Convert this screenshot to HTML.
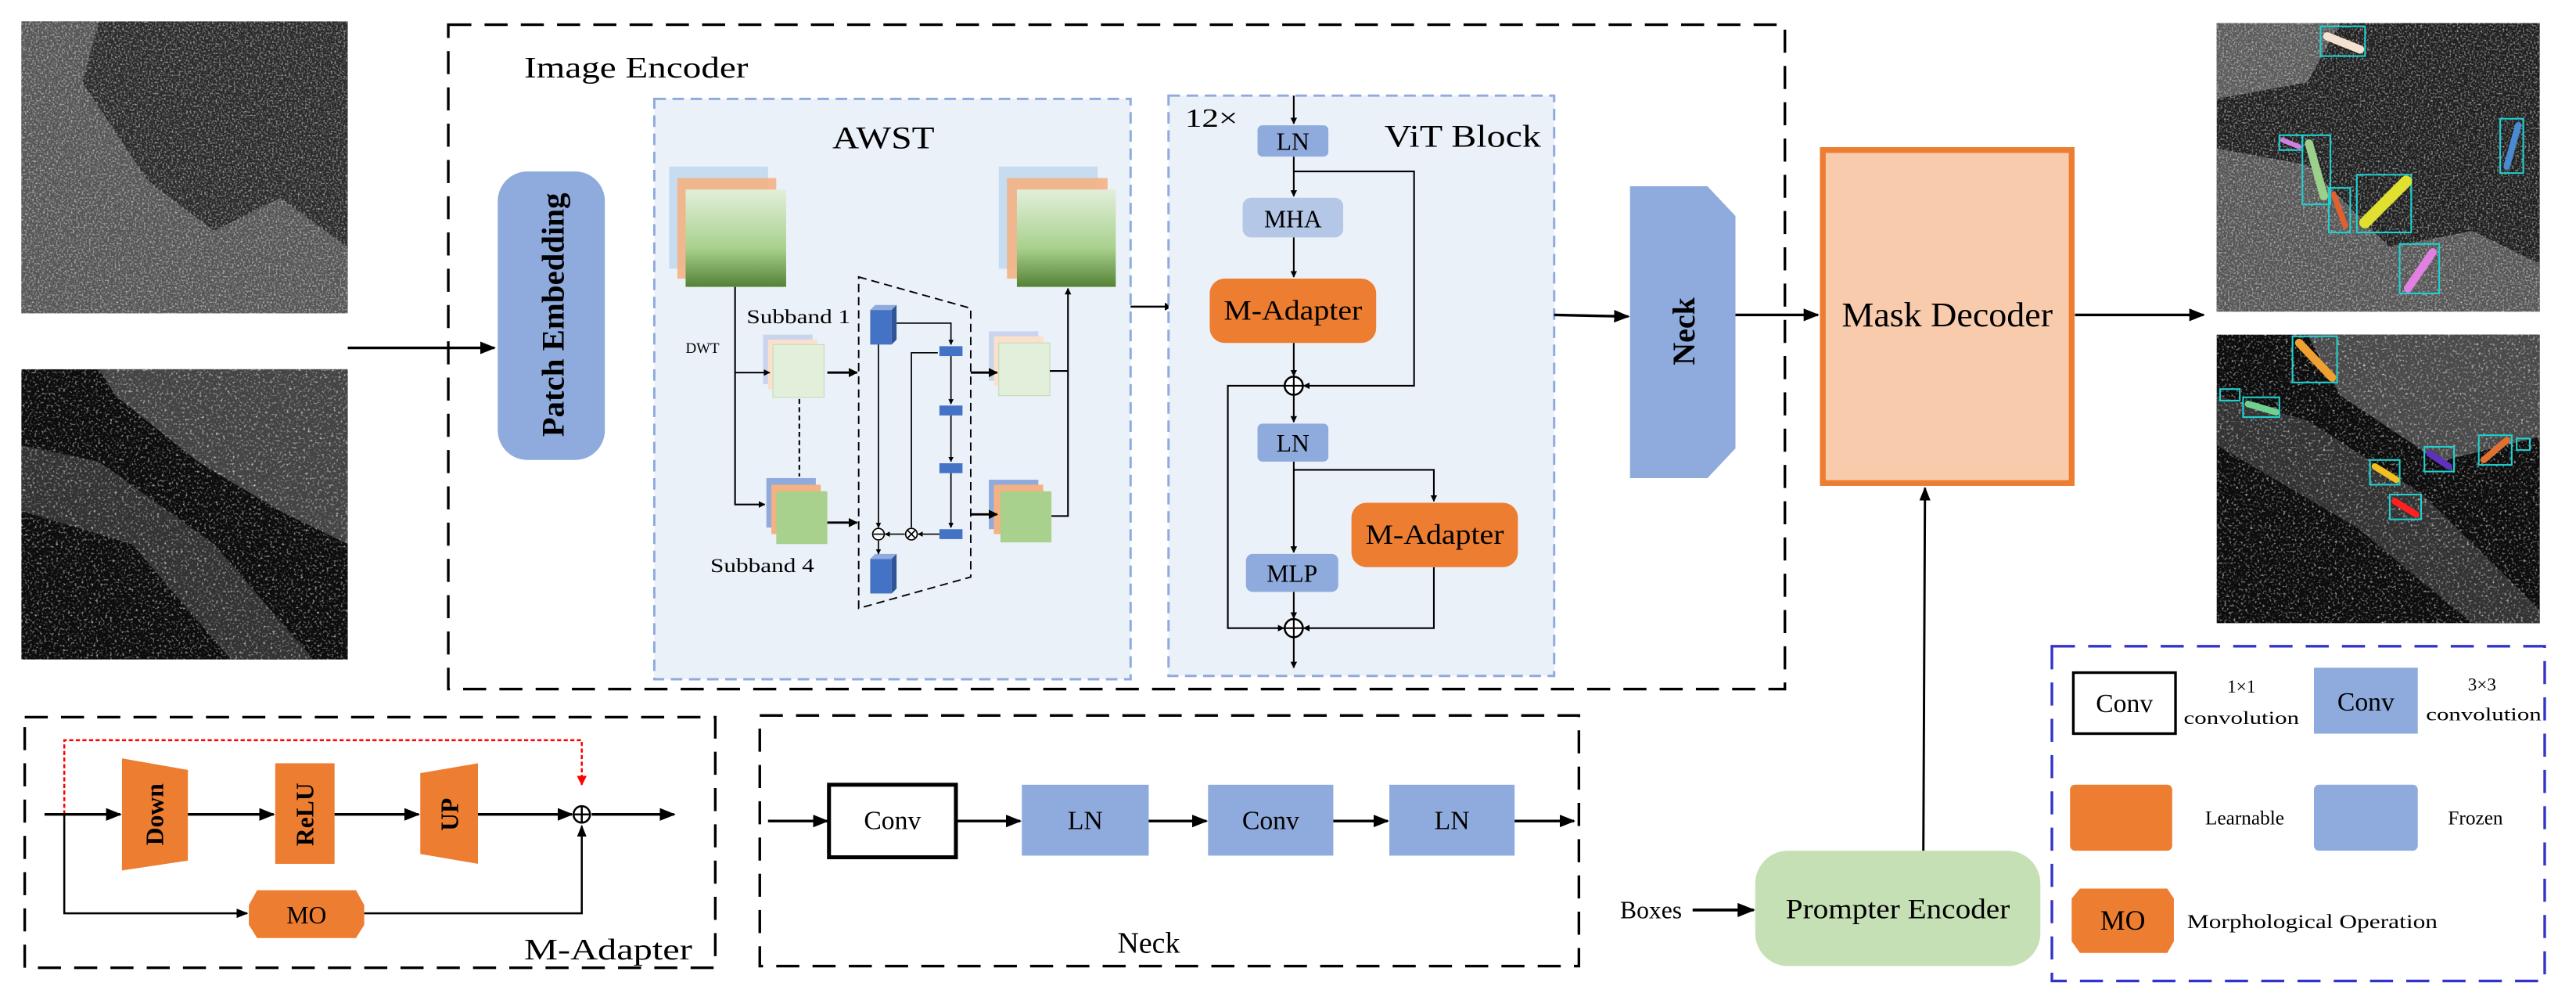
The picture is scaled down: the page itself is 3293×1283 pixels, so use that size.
<!DOCTYPE html>
<html><head><meta charset="utf-8"><style>
html,body{margin:0;padding:0;background:#fff}
svg{display:block}
text{font-family:"Liberation Serif",serif;fill:#000}
</style></head><body>
<svg width="3293" height="1283" viewBox="0 0 1563 609" preserveAspectRatio="none" xmlns="http://www.w3.org/2000/svg">
<defs>
<filter id="noise" x="0" y="0" width="100%" height="100%">
<feTurbulence type="fractalNoise" baseFrequency="0.9" numOctaves="2" seed="3"/>
<feColorMatrix type="matrix" values="0 0 0 0 1  0 0 0 0 1  0 0 0 0 1  1.6 0 0 0 -0.75"/>
</filter>
<filter id="noise2" x="0" y="0" width="100%" height="100%">
<feTurbulence type="fractalNoise" baseFrequency="0.7" numOctaves="2" seed="7"/>
<feColorMatrix type="matrix" values="0 0 0 0 1  0 0 0 0 1  0 0 0 0 1  2.2 0 0 0 -1.2"/>
</filter>
<linearGradient id="gg" x1="0" y1="0" x2="0" y2="1"><stop offset="0" stop-color="#e2efda"/><stop offset="0.6" stop-color="#a9d18e"/><stop offset="1" stop-color="#548235"/></linearGradient>
<marker id="a" viewBox="0 0 10 10" refX="9" refY="5" markerWidth="4" markerHeight="4" orient="auto"><path d="M0,0 L10,5 L0,10 z" fill="#000"/></marker>
<marker id="s" viewBox="0 0 10 10" refX="9" refY="5" markerWidth="6" markerHeight="6" orient="auto"><path d="M0,1 L10,5 L0,9 z" fill="#000"/></marker>
<marker id="r" viewBox="0 0 10 10" refX="9" refY="5" markerWidth="5" markerHeight="5" orient="auto"><path d="M0,0 L10,5 L0,10 z" fill="#f00"/></marker>
</defs>

<!-- input SAR images -->
<rect x="13" y="13" width="198" height="177" fill="#2a2a2a"/>
<path d="M13,13 L60,13 L50,50 L90,110 L130,140 L170,120 L211,150 L211,190 L13,190 Z" fill="#555"/>
<rect x="13" y="13" width="198" height="177" filter="url(#noise)"/>
<rect x="13" y="224" width="198" height="176" fill="#0d0d0d"/>
<path d="M60,224 L211,224 L211,330 L170,310 L120,280 L70,240 Z" fill="#444"/>
<path d="M13,270 L60,280 L130,330 L190,400 L140,400 L80,330 L13,310 Z" fill="#333"/>
<rect x="13" y="224" width="198" height="176" filter="url(#noise2)"/>
<line x1="211" y1="211" x2="300" y2="211" stroke="#000" stroke-width="1.6" marker-end="url(#s)"/>

<!-- Image encoder box -->
<rect x="272" y="15" width="811" height="403" fill="none" stroke="#000" stroke-width="1.6" stroke-dasharray="14,8"/>
<text x="318" y="47" font-size="18" textLength="136" lengthAdjust="spacingAndGlyphs">Image Encoder</text>

<!-- Patch embedding -->
<rect x="302" y="104" width="65" height="175" rx="18" fill="#8faadc"/>
<text transform="translate(342,191) rotate(-90)" text-anchor="middle" font-size="19" font-weight="bold" textLength="148" lengthAdjust="spacingAndGlyphs">Patch Embedding</text>

<!-- AWST -->
<rect x="397" y="60" width="289" height="352" fill="#ebf1f9" stroke="#8faadc" stroke-width="1.4" stroke-dasharray="7,4"/>
<text x="536" y="90" text-anchor="middle" font-size="19" textLength="62" lengthAdjust="spacingAndGlyphs">AWST</text>
<rect x="406" y="101" width="60" height="62" fill="#bdd7ee" opacity="0.8"/>
<rect x="411" y="108" width="60" height="61" fill="#f4b183" opacity="0.9"/>
<rect x="416" y="115" width="61" height="59" fill="url(#gg)"/>
<rect x="606" y="101" width="60" height="62" fill="#bdd7ee" opacity="0.8"/>
<rect x="611" y="108" width="61" height="61" fill="#f4b183" opacity="0.9"/>
<rect x="617" y="115" width="60" height="59" fill="url(#gg)"/>
<text x="453" y="196" font-size="12" textLength="63" lengthAdjust="spacingAndGlyphs">Subband 1</text>
<text x="416" y="214" font-size="9">DWT</text>
<rect x="463" y="203" width="30" height="30" fill="#c9d4ee"/>
<rect x="466" y="206" width="30" height="30" fill="#fbe0cc"/>
<rect x="469" y="209" width="31" height="32" fill="#e2efda" stroke="#c5d9b8" stroke-width="0.5"/>
<rect x="465" y="290" width="30" height="30" fill="#8faadc"/>
<rect x="468" y="294" width="30" height="30" fill="#f4b183"/>
<rect x="471" y="298" width="31" height="32" fill="#a9d18e"/>
<text x="431" y="347" font-size="12" textLength="63" lengthAdjust="spacingAndGlyphs">Subband 4</text>
<line x1="485" y1="242" x2="485" y2="289" stroke="#000" stroke-width="1" stroke-dasharray="3,2"/>
<polyline points="446,174 446,306 464,306" fill="none" stroke="#000" stroke-width="1" marker-end="url(#a)"/>
<line x1="446" y1="226" x2="467" y2="226" stroke="#000" stroke-width="1" marker-end="url(#a)"/>
<line x1="502" y1="226" x2="520" y2="226" stroke="#000" stroke-width="1.4" marker-end="url(#a)"/>
<line x1="502" y1="317" x2="520" y2="317" stroke="#000" stroke-width="1.4" marker-end="url(#a)"/>
<polygon points="521,168 589,187 589,350 521,369" fill="none" stroke="#000" stroke-width="0.9" stroke-dasharray="5,3"/>
<!-- inner -->
<rect x="528" y="188" width="13" height="21" fill="#4472c4"/><polygon points="528,188 531,185 544,185 541,188" fill="#8faadc"/><polygon points="541,188 544,185 544,206 541,209" fill="#2f5597"/>
<rect x="528" y="339" width="13" height="21" fill="#4472c4"/><polygon points="528,339 531,336 544,336 541,339" fill="#8faadc"/><polygon points="541,339 544,336 544,357 541,360" fill="#2f5597"/>
<g fill="#4472c4"><rect x="570" y="210" width="14" height="6"/><rect x="570" y="246" width="14" height="6"/><rect x="570" y="281" width="14" height="6"/><rect x="570" y="321" width="14" height="6"/></g>
<g stroke="#000" stroke-width="0.8" fill="none">
<polyline points="544,196 577,196 577,209" marker-end="url(#a)"/>
<line x1="577" y1="216" x2="577" y2="245" marker-end="url(#a)"/>
<line x1="577" y1="252" x2="577" y2="280" marker-end="url(#a)"/>
<line x1="577" y1="287" x2="577" y2="320" marker-end="url(#a)"/>
<polyline points="569,214 553,214 553,320"/>
<line x1="533" y1="209" x2="533" y2="320" marker-end="url(#a)"/>
<line x1="570" y1="324" x2="557" y2="324" marker-end="url(#a)"/>
<line x1="549" y1="324" x2="537" y2="324" marker-end="url(#a)"/>
<line x1="533" y1="328" x2="533" y2="336" marker-end="url(#a)"/>
<circle cx="553" cy="324" r="3.5" fill="#fff"/><circle cx="533" cy="324" r="3.5" fill="#fff"/>
<path d="M550.5,321.5 L555.5,326.5 M555.5,321.5 L550.5,326.5"/>
<path d="M530,324 L536,324"/>
</g>
<rect x="600" y="201" width="30" height="30" fill="#c9d4ee"/>
<rect x="603" y="204" width="30" height="30" fill="#fbe0cc"/>
<rect x="606" y="208" width="31" height="32" fill="#e2efda" stroke="#c5d9b8" stroke-width="0.5"/>
<rect x="600" y="291" width="30" height="30" fill="#8faadc"/>
<rect x="603" y="294" width="30" height="30" fill="#f4b183"/>
<rect x="607" y="298" width="31" height="31" fill="#a9d18e"/>
<line x1="589" y1="226" x2="605" y2="226" stroke="#000" stroke-width="1.4" marker-end="url(#a)"/>
<line x1="589" y1="312" x2="605" y2="312" stroke="#000" stroke-width="1.4" marker-end="url(#a)"/>
<polyline points="637,225 648,225" fill="none" stroke="#000" stroke-width="1"/>
<polyline points="638,313 648,313 648,175" fill="none" stroke="#000" stroke-width="1" marker-end="url(#a)"/>
<line x1="686" y1="186" x2="711" y2="186" stroke="#000" stroke-width="1.2" marker-end="url(#a)"/>

<!-- ViT block -->
<rect x="709" y="58" width="234" height="352" fill="#ebf1f9" stroke="#8faadc" stroke-width="1.4" stroke-dasharray="7,4"/>
<text x="719" y="77" font-size="16" textLength="32" lengthAdjust="spacingAndGlyphs">12×</text>
<text x="840" y="89" font-size="19" textLength="95" lengthAdjust="spacingAndGlyphs">ViT Block</text>
<g stroke="#000" stroke-width="1" fill="none">
<line x1="785" y1="58" x2="785" y2="75" marker-end="url(#a)"/>
<line x1="785" y1="95" x2="785" y2="119" marker-end="url(#a)"/>
<polyline points="785,104 858,104 858,234 791,234" marker-end="url(#a)"/>
<line x1="785" y1="144" x2="785" y2="168" marker-end="url(#a)"/>
<line x1="785" y1="208" x2="785" y2="228" marker-end="url(#a)"/>
<line x1="785" y1="240" x2="785" y2="256" marker-end="url(#a)"/>
<polyline points="785,234 745,234 745,381 779,381" marker-end="url(#a)"/>
<line x1="785" y1="280" x2="785" y2="335" marker-end="url(#a)"/>
<polyline points="785,285 870,285 870,304" marker-end="url(#a)"/>
<line x1="785" y1="359" x2="785" y2="375" marker-end="url(#a)"/>
<polyline points="870,344 870,381 791,381" marker-end="url(#a)"/>
<line x1="785" y1="387" x2="785" y2="405" marker-end="url(#a)"/>
<circle cx="785" cy="234" r="5.5" fill="#fff" stroke-width="1.2"/>
<path d="M779.5,234 H790.5 M785,228.5 V239.5"/>
<circle cx="785" cy="381" r="5.5" fill="#fff" stroke-width="1.2"/>
<path d="M779.5,381 H790.5 M785,375.5 V386.5"/>
</g>
<rect x="763" y="76" width="43" height="19" rx="3" fill="#8faadc"/>
<text x="784.5" y="91" text-anchor="middle" font-size="15">LN</text>
<rect x="754" y="120" width="61" height="24" rx="5" fill="#b4c7e7"/>
<text x="784.5" y="138" text-anchor="middle" font-size="15">MHA</text>
<rect x="734" y="169" width="101" height="39" rx="9" fill="#ed7d31"/>
<text x="784.5" y="194" text-anchor="middle" font-size="17" textLength="84" lengthAdjust="spacingAndGlyphs">M-Adapter</text>
<rect x="763" y="257" width="43" height="23" rx="3" fill="#8faadc"/>
<text x="784.5" y="274" text-anchor="middle" font-size="15">LN</text>
<rect x="820" y="305" width="101" height="39" rx="9" fill="#ed7d31"/>
<text x="870.5" y="330" text-anchor="middle" font-size="17" textLength="84" lengthAdjust="spacingAndGlyphs">M-Adapter</text>
<rect x="756" y="336" width="56" height="23" rx="4" fill="#8faadc"/>
<text x="784" y="353" text-anchor="middle" font-size="15">MLP</text>

<!-- Neck -->
<line x1="943" y1="191" x2="988" y2="192" stroke="#000" stroke-width="1.6" marker-end="url(#s)"/>
<polygon points="989,113 1036,113 1053,131 1053,272 1036,290 989,290" fill="#8faadc"/>
<text transform="translate(1028,201) rotate(-90)" text-anchor="middle" font-size="19" font-weight="bold">Neck</text>
<line x1="1053" y1="191" x2="1103" y2="191" stroke="#000" stroke-width="1.6" marker-end="url(#s)"/>

<!-- Mask decoder -->
<rect x="1106" y="91" width="151" height="202" fill="#f8cbad" stroke="#ed7d31" stroke-width="3.5"/>
<text x="1181.5" y="198" text-anchor="middle" font-size="21" textLength="128" lengthAdjust="spacingAndGlyphs">Mask Decoder</text>
<line x1="1259" y1="191" x2="1337" y2="191" stroke="#000" stroke-width="1.6" marker-end="url(#s)"/>
<line x1="1167" y1="516" x2="1168" y2="296" stroke="#000" stroke-width="1.4" marker-end="url(#s)"/>

<!-- output images -->
<rect x="1345" y="14" width="196" height="175" fill="#1e1e1e"/>
<path d="M1345,14 L1420,14 L1400,50 L1345,60 Z" fill="#5a5a5a"/>
<path d="M1345,90 L1400,100 L1450,150 L1500,140 L1541,160 L1541,189 L1345,189 Z" fill="#555"/>
<rect x="1345" y="14" width="196" height="175" filter="url(#noise)"/>
<rect x="1345" y="203" width="196" height="175" fill="#0d0d0d"/>
<path d="M1400,203 L1541,203 L1541,265 L1480,280 L1420,240 Z" fill="#4a4a4a"/>
<path d="M1345,240 L1400,255 L1470,300 L1541,370 L1541,378 L1500,378 L1430,320 L1345,270 Z" fill="#333"/>
<rect x="1345" y="203" width="196" height="175" filter="url(#noise2)"/>
<g fill="none" stroke="#1fd0d0" stroke-width="1">
<rect x="1408" y="16" width="27" height="18"/><rect x="1517" y="72" width="14" height="33"/><rect x="1383" y="82" width="14" height="9"/>
<rect x="1397" y="82" width="17" height="42"/><rect x="1413" y="114" width="13" height="27"/><rect x="1430" y="106" width="33" height="35"/><rect x="1456" y="148" width="24" height="30"/>
<rect x="1391" y="204" width="27" height="28"/><rect x="1347" y="236" width="12" height="7"/><rect x="1361" y="241" width="22" height="12"/>
<rect x="1438" y="279" width="18" height="15"/><rect x="1450" y="300" width="19" height="15"/><rect x="1471" y="271" width="18" height="15"/>
<rect x="1504" y="264" width="20" height="18"/><rect x="1527" y="266" width="8" height="7"/>
</g>
<g stroke-linecap="round" fill="none">
<line x1="1412" y1="22" x2="1432" y2="30" stroke="#f5e1d0" stroke-width="5"/>
<line x1="1528" y1="76" x2="1521" y2="101" stroke="#4a8ad0" stroke-width="4"/>
<line x1="1385" y1="85" x2="1395" y2="89" stroke="#d080e0" stroke-width="3"/>
<line x1="1401" y1="87" x2="1410" y2="119" stroke="#9ad08a" stroke-width="5"/>
<line x1="1416" y1="118" x2="1423" y2="137" stroke="#e06030" stroke-width="3.5"/>
<line x1="1460" y1="110" x2="1435" y2="135" stroke="#e0e030" stroke-width="7"/>
<line x1="1476" y1="153" x2="1461" y2="175" stroke="#e080e0" stroke-width="5"/>
<line x1="1395" y1="208" x2="1415" y2="229" stroke="#f0a030" stroke-width="5"/>
<line x1="1364" y1="245" x2="1381" y2="250" stroke="#70d090" stroke-width="4"/>
<line x1="1441" y1="283" x2="1454" y2="291" stroke="#f0c020" stroke-width="4"/>
<line x1="1453" y1="304" x2="1466" y2="312" stroke="#ff2020" stroke-width="4"/>
<line x1="1474" y1="275" x2="1486" y2="283" stroke="#6030c0" stroke-width="4"/>
<line x1="1507" y1="279" x2="1521" y2="267" stroke="#e07030" stroke-width="4"/>
</g>

<!-- M-Adapter detail -->
<rect x="15" y="435" width="419" height="152" fill="none" stroke="#000" stroke-width="1.6" stroke-dasharray="14,8"/>
<text x="318" y="582" font-size="18" textLength="102" lengthAdjust="spacingAndGlyphs">M-Adapter</text>
<polyline points="39,494 39,449 353,449 353,476" fill="none" stroke="#f00" stroke-width="1.2" stroke-dasharray="2.5,1.5" marker-end="url(#r)"/>
<polygon points="74,460 114,467 114,522 74,528" fill="#ed7d31"/>
<text transform="translate(99,494) rotate(-90)" text-anchor="middle" font-size="15" font-weight="bold" font-family="Liberation Sans,sans-serif">Down</text>
<rect x="167" y="463" width="36" height="61" fill="#ed7d31"/>
<text transform="translate(190,494) rotate(-90)" text-anchor="middle" font-size="15" font-weight="bold" font-family="Liberation Sans,sans-serif">ReLU</text>
<polygon points="255,469 290,463 290,524 255,518" fill="#ed7d31"/>
<text transform="translate(278,494) rotate(-90)" text-anchor="middle" font-size="15" font-weight="bold" font-family="Liberation Sans,sans-serif">UP</text>
<g stroke="#000" stroke-width="1.6" fill="none">
<line x1="27" y1="494" x2="73" y2="494" marker-end="url(#s)"/>
<line x1="114" y1="494" x2="166" y2="494" marker-end="url(#s)"/>
<line x1="203" y1="494" x2="254" y2="494" marker-end="url(#s)"/>
<line x1="290" y1="494" x2="347" y2="494" marker-end="url(#s)"/>
<line x1="359" y1="494" x2="409" y2="494" marker-end="url(#s)"/>
<polyline points="39,494 39,554 150,554" marker-end="url(#s)" stroke-width="1.2"/>
<polyline points="221,554 353,554 353,501" marker-end="url(#s)" stroke-width="1.2"/>
<circle cx="353" cy="494" r="5" fill="#fff" stroke-width="1.2"/>
<path d="M348,494 H358 M353,489 V499" stroke-width="1.2"/>
</g>
<polygon points="156,540 216,540 221,549 221,561 216,569 156,569 151,561 151,549" fill="#ed7d31"/>
<text x="186" y="560" text-anchor="middle" font-size="15">MO</text>

<!-- Neck detail -->
<rect x="461" y="434" width="497" height="152" fill="none" stroke="#000" stroke-width="1.6" stroke-dasharray="14,8"/>
<text x="697" y="578" text-anchor="middle" font-size="18">Neck</text>
<rect x="503" y="476" width="77" height="44" fill="#fff" stroke="#000" stroke-width="2.4"/>
<text x="541.5" y="503" text-anchor="middle" font-size="16">Conv</text>
<rect x="620" y="476" width="77" height="43" fill="#8faadc"/>
<text x="658.5" y="503" text-anchor="middle" font-size="16">LN</text>
<rect x="733" y="476" width="76" height="43" fill="#8faadc"/>
<text x="771" y="503" text-anchor="middle" font-size="16">Conv</text>
<rect x="843" y="476" width="76" height="43" fill="#8faadc"/>
<text x="881" y="503" text-anchor="middle" font-size="16">LN</text>
<g stroke="#000" stroke-width="1.6">
<line x1="466" y1="498" x2="502" y2="498" marker-end="url(#s)"/>
<line x1="580" y1="498" x2="619" y2="498" marker-end="url(#s)"/>
<line x1="697" y1="498" x2="732" y2="498" marker-end="url(#s)"/>
<line x1="809" y1="498" x2="842" y2="498" marker-end="url(#s)"/>
<line x1="919" y1="498" x2="955" y2="498" marker-end="url(#s)"/>
</g>

<!-- prompter -->
<text x="983" y="557" font-size="15">Boxes</text>
<line x1="1027" y1="552" x2="1064" y2="552" stroke="#000" stroke-width="1.8" marker-end="url(#s)"/>
<rect x="1065" y="516" width="173" height="70" rx="20" fill="#c5e0b4"/>
<text x="1151.5" y="557" text-anchor="middle" font-size="17" textLength="136" lengthAdjust="spacingAndGlyphs">Prompter Encoder</text>

<!-- legend -->
<rect x="1245" y="392" width="299" height="203" fill="none" stroke="#3333cc" stroke-width="1.6" stroke-dasharray="14,8"/>
<rect x="1258" y="408" width="62" height="37" fill="#fff" stroke="#000" stroke-width="1.6"/>
<text x="1289" y="432" text-anchor="middle" font-size="16">Conv</text>
<text x="1360" y="420" text-anchor="middle" font-size="11">1×1</text>
<text x="1360" y="439" text-anchor="middle" font-size="11" textLength="70" lengthAdjust="spacingAndGlyphs">convolution</text>
<rect x="1404" y="405" width="63" height="40" fill="#8faadc"/>
<text x="1435.5" y="431" text-anchor="middle" font-size="16">Conv</text>
<text x="1506" y="419" text-anchor="middle" font-size="11">3×3</text>
<text x="1507" y="437" text-anchor="middle" font-size="11" textLength="70" lengthAdjust="spacingAndGlyphs">convolution</text>
<rect x="1256" y="476" width="62" height="40" rx="3" fill="#ed7d31"/>
<text x="1362" y="500" text-anchor="middle" font-size="12">Learnable</text>
<rect x="1404" y="476" width="63" height="40" rx="3" fill="#8faadc"/>
<text x="1502" y="500" text-anchor="middle" font-size="12">Frozen</text>
<polygon points="1262,539 1315,539 1319,545 1319,571 1315,578 1262,578 1257,571 1257,545" fill="#ed7d31"/>
<text x="1288" y="564" text-anchor="middle" font-size="17">MO</text>
<text x="1327" y="563" font-size="12" textLength="152" lengthAdjust="spacingAndGlyphs">Morphological Operation</text>
</svg>
</body></html>
